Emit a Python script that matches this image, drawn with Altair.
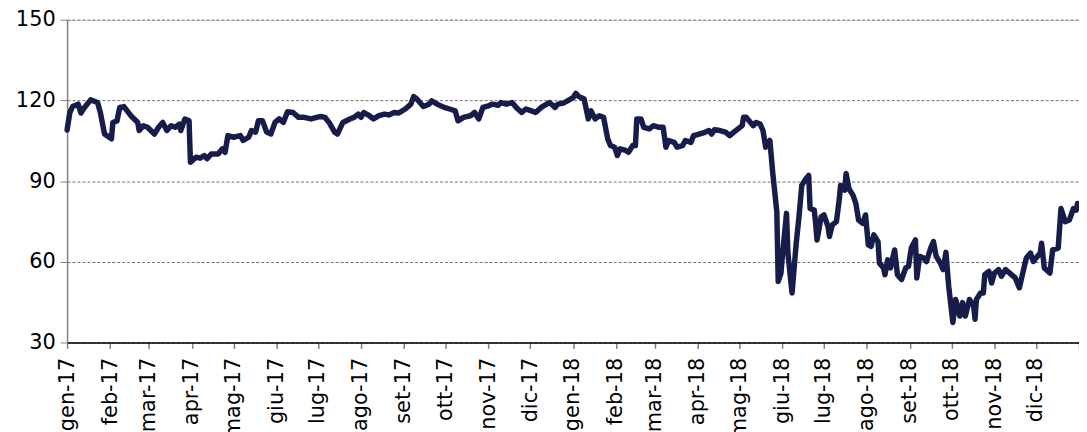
import altair as alt
import pandas as pd

# Day offsets from 1 Jan 2017 and index values
DAYS = [0, 2, 4, 8, 10, 12, 17, 22, 24, 27, 32, 33, 36, 38, 41, 46, 51, 52, 55, 58,
        63, 66, 69, 72, 75, 78, 81, 82, 85, 88, 89, 93, 96, 99, 101, 104, 109, 112, 114, 116,
        120, 125, 127, 131, 133, 136, 138, 141, 144, 147, 150, 153, 156, 159, 163, 167, 171, 176, 180, 183,
        186, 189, 193, 195, 199, 204, 207, 210, 212, 214, 218, 221, 225, 229, 232, 236, 239, 244, 248, 250,
        252, 257, 261, 263, 267, 272, 276, 280, 282, 286, 291, 294, 297, 300, 304, 307, 311, 313, 317, 321,
        324, 328, 331, 335, 338, 342, 346, 348, 352, 354, 358, 361, 365, 367, 369, 373, 376, 378, 381, 384,
        387, 390, 392, 395, 397, 399, 403, 405, 408, 410, 411, 414, 416, 420, 423, 427, 430, 432, 434, 438,
        440, 444, 446, 450, 452, 456, 459, 463, 465, 467, 471, 475, 478, 481, 484, 487, 488, 490, 492, 495,
        497, 500, 502, 504, 507, 509, 512, 513, 515, 516, 519, 520, 523, 526, 528, 530, 533, 535, 536, 539,
        540, 541, 544, 546, 549, 550, 552, 555, 557, 558, 561, 562, 564, 567, 569, 571, 574, 576, 578, 580,
        582, 585, 586, 589, 590, 592, 594, 597, 599, 602, 605, 607, 609, 612, 613, 615, 618, 620, 623, 625,
        627, 630, 632, 634, 636, 639, 641, 644, 646, 648, 651, 654, 655, 656, 659, 661, 662, 665, 667, 669,
        672, 674, 677, 680, 684, 687, 690, 692, 695, 697, 699, 702, 703, 705, 709, 711, 715, 717, 720, 723,
        726, 728, 729]
VALUES = [109.0, 115.5, 117.7, 118.6, 115.3, 117.0, 120.2, 119.2, 115.5, 107.5, 105.7, 111.8, 112.4, 117.4, 117.7, 114.3, 111.8, 108.8, 110.6, 110.0,
          107.5, 110.0, 111.8, 108.8, 110.6, 110.0, 111.2, 108.8, 113.1, 112.4, 97.0, 98.9, 98.5, 99.5, 98.3, 100.1, 100.1, 102.0, 100.7, 106.9,
          106.3, 106.9, 105.1, 106.3, 108.8, 108.2, 112.4, 112.4, 108.2, 107.5, 111.8, 113.1, 111.8, 115.8, 115.5, 113.7, 113.7, 113.1, 113.7, 114.0,
          113.7, 111.8, 108.2, 107.5, 111.8, 113.1, 113.7, 114.9, 113.7, 115.5, 114.3, 113.1, 114.3, 114.9, 114.6, 115.5, 115.3, 116.8, 118.6, 121.4,
          120.7, 117.7, 118.6, 119.8, 118.6, 117.4, 116.8, 116.1, 112.4, 113.7, 114.3, 115.5, 113.1, 117.4, 118.0, 118.6, 118.2, 119.2, 118.6, 119.2,
          117.4, 115.5, 116.8, 116.1, 115.5, 117.4, 118.6, 119.2, 117.4, 118.6, 119.0, 119.8, 121.0, 122.6, 121.5, 120.5, 113.1, 116.1, 113.1, 114.3,
          113.7, 105.7, 103.2, 102.6, 99.5, 102.0, 101.4, 100.7, 103.2, 103.2, 113.1, 113.1, 110.0, 109.4, 110.6, 110.0, 110.0, 102.6, 105.1, 104.4,
          102.6, 103.2, 105.1, 104.4, 106.9, 107.5, 107.9, 108.8, 107.5, 109.1, 108.8, 108.2, 106.9, 108.2, 109.4, 110.6, 113.7, 113.7, 112.4, 110.6,
          111.8, 111.2, 108.8, 102.6, 105.1, 93.4, 78.6, 52.7, 55.8, 62.0, 78.0, 63.2, 48.4, 66.9, 76.7, 88.4, 90.9, 92.1, 79.8, 79.2,
          74.3, 68.1, 76.7, 77.4, 73.0, 69.4, 73.7, 74.9, 82.9, 88.4, 86.6, 92.8, 87.2, 84.7, 81.7, 75.5, 74.3, 77.4, 66.3, 65.7,
          70.0, 67.5, 59.5, 57.7, 55.2, 60.7, 57.7, 64.4, 55.2, 53.4, 57.7, 58.3, 65.1, 68.1, 54.0, 62.0, 61.4, 60.1, 65.1, 67.5,
          62.0, 59.5, 57.1, 63.5, 50.9, 37.4, 46.0, 39.8, 44.8, 39.8, 46.0, 43.5, 38.6, 46.0, 48.4, 48.4, 55.2, 56.4, 52.1, 55.8,
          57.1, 54.6, 57.1, 55.8, 54.0, 50.3, 57.1, 61.4, 63.2, 60.1, 61.4, 63.2, 66.9, 57.7, 55.8, 64.4, 65.1, 79.8, 74.9, 75.5,
          79.8, 79.2, 81.7]

MONTHS_IT = ['gen', 'feb', 'mar', 'apr', 'mag', 'giu', 'lug', 'ago', 'set', 'ott', 'nov', 'dic']
Y_TICKS = [30, 60, 90, 120, 150]

dates = pd.Timestamp('2017-01-01') + pd.to_timedelta(DAYS, unit='D')
df = pd.DataFrame({'date': dates.strftime('%Y-%m-%dT00:00:00'), 'value': VALUES})

month_values = [alt.DateTime(year=y, month=m, date=1) for y in (2017, 2018) for m in range(1, 13)]
month_values.append(alt.DateTime(year=2019, month=1, date=1))

month_arr = "[" + ",".join("'%s'" % m for m in MONTHS_IT) + "]"
label_expr = ("year(datum.value) > 2018 ? '' : " + month_arr +
              "[month(datum.value)] + '-' + timeFormat(datum.value, '%y')")

FONT = "DejaVu Sans"

chart = alt.Chart(df).mark_line(color="#161D4B", strokeWidth=5.5, strokeJoin="round", strokeCap="round").encode(
    x=alt.X("date:T",
            scale=alt.Scale(domain=[alt.DateTime(year=2017, month=1, date=1),
                                    alt.DateTime(year=2019, month=1, date=1)]),
            axis=alt.Axis(values=month_values, labelExpr=label_expr, title=None,
                          labelAngle=270, labelAlign="right", labelBaseline="middle",
                          labelFont=FONT, labelFontSize=21, labelColor="#000000",
                          labelPadding=9, labelOverlap=False, labelFlush=False, labelBound=False,
                          domainColor="#000000", domainWidth=1.5,
                          tickColor="#808080", tickSize=6, tickWidth=1.5, grid=False)),
    y=alt.Y("value:Q",
            scale=alt.Scale(domain=[30, 150], nice=False, zero=False),
            axis=alt.Axis(values=Y_TICKS, title=None, labelFont=FONT, labelFontSize=21,
                          labelColor="#000000", labelPadding=5,
                          domainColor="#808080", domainWidth=1.5,
                          tickColor="#808080", tickSize=7, tickWidth=1,
                          grid=True, gridColor="#707070", gridDash=[3, 2], gridWidth=1)),
).properties(
    width=1019, height=325,
    padding={"left": 59.5, "top": 10.3, "right": 0, "bottom": 90},
    autosize=alt.AutoSizeParams(type="none"),
).configure_view(stroke=None).configure(background="#ffffff")

chart.save("out.html", embed_options={"renderer": "svg", "actions": False})
